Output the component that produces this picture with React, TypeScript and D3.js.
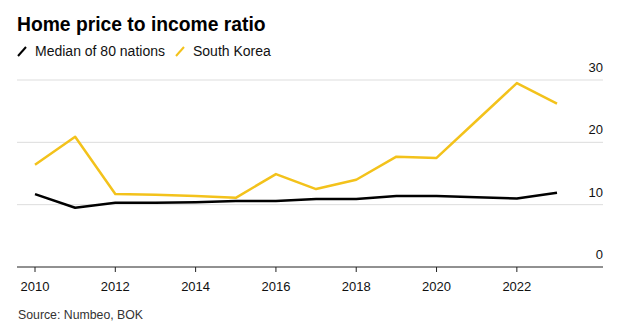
import React from "react";
import * as d3 from "d3";

const years = [2010, 2011, 2012, 2013, 2014, 2015, 2016, 2017, 2018, 2019, 2020, 2021, 2022, 2023];
const korea = [16.4, 20.9, 11.7, 11.6, 11.4, 11.1, 14.9, 12.5, 14.0, 17.7, 17.5, 23.5, 29.5, 26.2];
const median = [11.7, 9.5, 10.3, 10.3, 10.4, 10.6, 10.6, 10.9, 10.9, 11.4, 11.4, 11.2, 11.0, 11.9];
const yTicks = [0, 10, 20, 30];
const xTicks = [2010, 2012, 2014, 2016, 2018, 2020, 2022];
const seriesNames = ["Median of 80 nations", "South Korea"];

const W = 636, H = 334;
const FONT = "'Liberation Sans', Arial, sans-serif";

export default function App() {
  const x = d3.scaleLinear().domain([2010, 2023]).range([35, 557]);
  const y = d3.scaleLinear().domain([0, 30]).range([267, 80]);
  const line = d3.line<number>().x((_, i) => x(years[i])).y((d) => y(d));
  const yellow = "#F3C21B";
  return (
    <svg width={W} height={H} style={{ position: "absolute", left: 0, top: 0, background: "#fff" }} fontFamily={FONT}>
      <text x={17} y={31} fontSize={19.3} fontWeight="bold" fill="#000">Home price to income ratio</text>
      <line x1={18} y1={56} x2={26} y2={47} stroke="#000" strokeWidth={2} />
      <text x={35} y={56} fontSize={14} fill="#111">{seriesNames[0]}</text>
      <line x1={176} y1={56} x2={184} y2={47} stroke={yellow} strokeWidth={2} />
      <text x={193} y={56} fontSize={14} fill="#111">{seriesNames[1]}</text>
      {yTicks.filter((t) => t > 0).map((t) => (
        <line key={t} x1={17} x2={603} y1={y(t)} y2={y(t)} stroke="#ddd" strokeWidth={1} />
      ))}
      {yTicks.map((t) => (
        <text key={"l" + t} x={603} y={y(t) - 8} fontSize={13} textAnchor="end" fill="#111">{t}</text>
      ))}
      <line x1={17} x2={603} y1={y(0)} y2={y(0)} stroke="#222" strokeWidth={1} />
      {xTicks.map((t) => (
        <g key={t}>
          <line x1={x(t)} x2={x(t)} y1={y(0)} y2={y(0) + 5} stroke="#222" strokeWidth={1} />
          <text x={x(t)} y={291} fontSize={13} textAnchor="middle" fill="#111">{t}</text>
        </g>
      ))}
      <path d={line(median) || ""} fill="none" stroke="#000" strokeWidth={2.5} strokeLinejoin="round" />
      <path d={line(korea) || ""} fill="none" stroke={yellow} strokeWidth={2.5} strokeLinejoin="round" />
      <text x={18} y={319} fontSize={12.3} fill="#333">Source: Numbeo, BOK</text>
    </svg>
  );
}
